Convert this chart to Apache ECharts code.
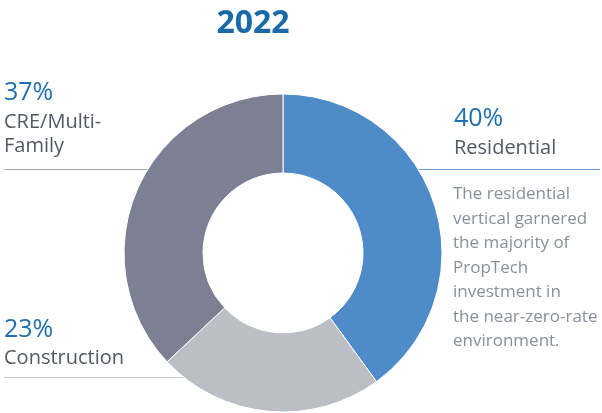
<!DOCTYPE html>
<html lang="en" style="height: 100%">

<head>
  <meta charset="utf-8">
  <script src="https://cdn.jsdelivr.net/npm/echarts@6/dist/echarts.min.js"></script>
</head>

<body style="height: 100%; margin: 0; background: #fff">
  <div id="container" style="width: 602px; height: 413px;"></div>
  <script>
    // data
    const title = '2022';
    const categories = ['Residential', 'Construction', 'CRE/Multi-Family'];
    const shares = [40, 23, 37];
    const colors = ['#4f8bc9', '#bbbec5', '#7b8193'];
    const labelLines = [['Residential'], ['Construction'], ['CRE/Multi-', 'Family']];
    const note = ['The residential', 'vertical garnered', 'the majority of', 'PropTech', 'investment in', 'the near-zero-rate', 'environment.'];

    const font = '"Open Sans", "Noto Sans", sans-serif';
    const pctColor = '#1f6fb0';
    const textColor = '#525866';

    var myChart = echarts.init(document.getElementById('container'), null, { renderer: 'canvas' });

    //文字块: [x, 百分比y, 标签y]
    function block(i, x, pctY, lblY) {
      return [
        {
          type: 'text', x: x, y: pctY,
          style: { text: shares[i] + '%', font: '25px ' + font, fill: pctColor, verticalAlign: 'middle' }
        },
        {
          type: 'text', x: x, y: lblY,
          style: { text: labelLines[i].join('\n'), font: '20px ' + font, fill: textColor, lineHeight: 24, verticalAlign: 'top' }
        }
      ];
    }

    var option = {
      title: {
        text: title,
        left: 248, top: 3,
        textAlign: 'center',
        textStyle: { fontFamily: font, fontWeight: 'bold', fontSize: 32, color: '#1a6aa8' }
      },
      series: [{
        type: 'pie',
        center: [283, 253],
        radius: [80, 159],
        startAngle: 90,
        clockwise: true,
        silent: true,
        label: { show: false },
        labelLine: { show: false },
        itemStyle: { borderColor: '#fff', borderWidth: 1 },
        data: categories.map((c, i) => ({ name: c, value: shares[i], itemStyle: { color: colors[i] } }))
      }],
      graphic: [
        // lines under the pie
        { type: 'line', z: -1, shape: { x1: 4, y1: 169.5, x2: 170, y2: 169.5 }, style: { stroke: '#a3a7b2', lineWidth: 1.2 } },
        { type: 'line', z: -1, shape: { x1: 400, y1: 169.5, x2: 600, y2: 169.5 }, style: { stroke: '#6c9bd0', lineWidth: 1.2 } },
        { type: 'line', z: -1, shape: { x1: 4, y1: 377.5, x2: 200, y2: 377.5 }, style: { stroke: '#c9cbd1', lineWidth: 1.2 } },
        ...block(2, 4, 93, 110),
        ...block(0, 454, 119, 136),
        ...block(1, 4, 330, 346),
        {
          type: 'text', x: 453, y: 182,
          style: { text: note.join('\n'), font: '17px ' + font, fill: '#8a8f9c', lineHeight: 24.5, verticalAlign: 'top' }
        }
      ]
    };
    myChart.setOption(option);
  </script>
</body>

</html>
